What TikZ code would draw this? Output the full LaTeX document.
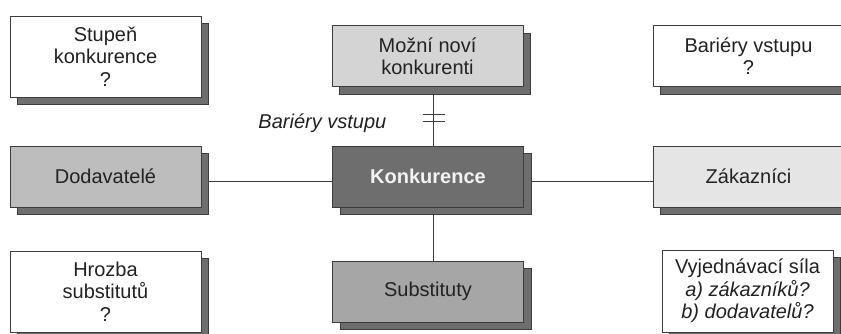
\documentclass[tikz,border=0pt]{standalone}
\usepackage{fontspec}
\setmainfont{Liberation Sans}
\usetikzlibrary{shadows,backgrounds,positioning}

\definecolor{edgegray}{HTML}{3C3C3C}
\definecolor{shadegray}{HTML}{6E6E6E}
\definecolor{inkgray}{HTML}{222222}
\newcommand{\boxfont}{\fontsize{20}{22.5}\selectfont}

\begin{document}
\begin{tikzpicture}[x = 1pt, y = -1pt, font = \boxfont,
  box/.style = {draw = edgegray, line width = 0.8pt, text = inkgray, align = center,
    minimum width = 191pt, minimum height = 61pt, inner sep = 0pt,
    general shadow = {shadow xshift = 7.5pt, shadow yshift = -7.5pt,
      fill = shadegray, draw = edgegray, line width = 0.8pt}},
  link/.style = {draw = edgegray, line width = 0.8pt}]
\clip (0, 0) rectangle (841, 333);

% top row
\node[box, fill = white, minimum height = 81pt] (stupen) at (105.5, 56.5) {Stupeň\\konkurence\\?};
\node[box, fill = black!17] (mozni) at (427.5, 56) {Možní noví\\konkurenti};
\node[box, fill = white] (bariery) at (748.5, 56) {Bariéry vstupu\\?};

% middle row
\node[box, fill = black!26] (dodavatele) at (105.5, 176.5) {Dodavatelé};
\node[box, fill = shadegray, text = black!5, font = \boxfont\bfseries] (konkurence) at (428, 176.5) {Konkurence};
\node[box, fill = black!10] (zakaznici) at (748.5, 176.5) {Zákazníci};

% bottom row
\node[box, fill = white, minimum height = 81pt] (hrozba) at (105.5, 291.5) {Hrozba\\substitutů\\?};
\node[box, fill = black!35] (substituty) at (428, 291.5) {Substituty};
\node[box, fill = white, minimum width = 171pt, minimum height = 82pt] (vyjednavani) at (747.5, 291)
  {Vyjednávací síla\\\textit{a) zákazníků?}\\\textit{b) dodavatelů?}};

% connectors
\begin{scope}[on background layer]
\fill[white] (0, 0) rectangle (841, 333);
\path ([xshift = 6pt]mozni.south) -- coordinate[pos = 0.534] (gate) ([xshift = 5.5pt]konkurence.north);
\draw[link] ([xshift = 6pt]mozni.south) -- ([xshift = 5.5pt]konkurence.north);
\draw[link] ([xshift = 5.5pt]konkurence.south) -- ([xshift = 5.5pt]substituty.north);
\draw[link] ([yshift = -5pt]dodavatele.east) -- ([yshift = -5pt]konkurence.west);
\draw[link] ([yshift = -5pt]konkurence.east) -- ([yshift = -5pt]zakaznici.west);
\end{scope}
\draw[link] ([xshift = -11pt, yshift = 3.5pt]gate) -- ([xshift = 11pt, yshift = 3.5pt]gate);
\draw[link] ([xshift = -11pt, yshift = -3.5pt]gate) -- ([xshift = 11pt, yshift = -3.5pt]gate);
\node[anchor = east, text = inkgray, font = \boxfont\itshape, inner sep = 3pt] (barlabel)
  at ([xshift = -44pt, yshift = -4.5pt]gate) {Bariéry vstupu};
\end{tikzpicture}
\end{document}
